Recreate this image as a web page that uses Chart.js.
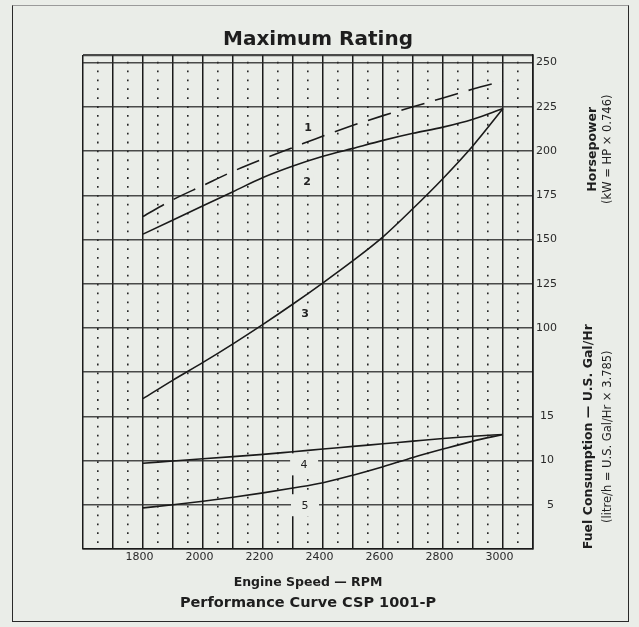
<!DOCTYPE html>
<html>
<head>
<meta charset="utf-8">
<script src="https://cdn.jsdelivr.net/npm/chart.js@4.4.1/dist/chart.umd.min.js"></script>
<style>
  html, body { margin:0; padding:0; width:639px; height:627px; overflow:hidden; background:#eaede8; }
  #frame { position:absolute; left:12px; top:5px; width:617px; height:617px; box-sizing:border-box;
           border:1.5px solid #2a2a2a; border-top-color:#9a9a9a; }
  #c { position:absolute; left:0; top:0; }
</style>
</head>
<body>
<div id="frame"></div>
<canvas id="c" width="639" height="627"></canvas>
<script>
// ---- data ----
const rpm        = [1800, 1900, 2000, 2100, 2200, 2300, 2400, 2500, 2600, 2700, 2800, 2900, 3000];
const hpCurve1   = [163, 172.5, 180.5, 188.5, 195.5, 202, 208.5, 214.5, 220, 225, 230, 235, 239.5]; // dashed
const hpCurve2   = [153, 161, 169, 177, 185, 191.5, 197, 201.5, 206, 210, 213.5, 218, 224];
const hpCurve3   = [60, 70.5, 80.5, 91, 102, 113.5, 125.5, 138, 151.5, 167.5, 184.5, 203, 224];
const fuelCurve4 = [9.7, 9.95, 10.2, 10.45, 10.7, 11.0, 11.3, 11.6, 11.9, 12.2, 12.5, 12.75, 12.95];
const fuelCurve5 = [4.65, 5.0, 5.4, 5.85, 6.35, 6.9, 7.5, 8.35, 9.3, 10.35, 11.3, 12.2, 12.95];

const rpmTickLabels  = [1800, 2000, 2200, 2400, 2600, 2800, 3000];
const hpTickLabels   = [100, 125, 150, 175, 200, 225, 250];
const fuelTickLabels = [5, 10, 15];
const curveNames     = ['1', '2', '3', '4', '5'];

// ---- styling ----
const INK = '#1a1a1a';
const BG = '#eaede8';
const FONT = "'DejaVu Sans', sans-serif";
const RPM_MIN = 1600, RPM_MAX = 3100;
const HP_MIN = -25, HP_MAX = 254.28;
const FUEL_MIN = 0, FUEL_MAX = 55.86;

const xy = (ys) => rpm.map((r, i) => ({ x: r, y: ys[i] }));

// label anchors in data units: [name index, rpm, value, axis, boxW, boxH, bold]
const labelAnchors = [
  [0, 2350, 213, 'yHp', 12, 16, true],
  [1, 2347, 182.5, 'yHp', 12, 16, true],
  [2, 2340, 108, 'yHp', 12, 16, true],
  [3, 2337, 9.57, 'yFuel', 28, 22, false],
  [4, 2340, 4.95, 'yFuel', 28, 22, false]
];

const curveLabels = {
  id: 'curveLabels',
  beforeDatasetsDraw(chart) {
    const ctx = chart.ctx;
    const xs = chart.scales.x;
    ctx.save();
    labelAnchors.forEach(([k, r, v, ax, w, h, bold]) => {
      const px = xs.getPixelForValue(r);
      const py = chart.scales[ax].getPixelForValue(v);
      ctx.fillStyle = BG;
      ctx.fillRect(px - w / 2, py - h / 2, w, h);
      ctx.fillStyle = '#222';
      ctx.font = (bold ? 'bold ' : '') + '11px ' + FONT;
      ctx.textAlign = 'center';
      ctx.textBaseline = 'middle';
      ctx.fillText(curveNames[k], px, py + 0.5);
    });
    ctx.restore();
  }
};

const sideTitles = {
  id: 'sideTitles',
  afterDraw(chart) {
    const ctx = chart.ctx;
    const put = (text, x, y, font) => {
      ctx.save();
      ctx.translate(x, y);
      ctx.rotate(-Math.PI / 2);
      ctx.font = font;
      ctx.fillStyle = '#1e1e1e';
      ctx.textAlign = 'center';
      ctx.textBaseline = 'middle';
      ctx.fillText(text, 0, 0);
      ctx.restore();
    };
    const hpMid = chart.scales.yHp.getPixelForValue(201);
    const fuelMid = chart.scales.yHp.getPixelForValue(38.5);
    put('Horsepower', 593, hpMid, 'bold 12.5px ' + FONT);
    put('(kW = HP × 0.746)', 608, hpMid, '11.5px ' + FONT);
    put('Fuel Consumption — U.S. Gal/Hr', 589, fuelMid, 'bold 12.5px ' + FONT);
    put('(litre/h = U.S. Gal/Hr × 3.785)', 608, fuelMid, '11.5px ' + FONT);
  }
};

const lineDs = (name, data, axis, dash) => ({
  label: name, data: xy(data), xAxisID: 'x', yAxisID: axis,
  borderColor: INK, borderWidth: 1.6, borderDash: dash || [],
  pointRadius: 0, fill: false, cubicInterpolationMode: 'monotone'
});

new Chart(document.getElementById('c'), {
  type: 'line',
  data: {
    datasets: [
      lineDs(curveNames[0], hpCurve1, 'yHp', [24, 11]),
      lineDs(curveNames[1], hpCurve2, 'yHp'),
      lineDs(curveNames[2], hpCurve3, 'yHp'),
      lineDs(curveNames[3], fuelCurve4, 'yFuel'),
      lineDs(curveNames[4], fuelCurve5, 'yFuel')
    ]
  },
  plugins: [curveLabels, sideTitles],
  options: {
    responsive: false,
    animation: false,
    devicePixelRatio: 1,
    events: [],
    layout: { padding: { left: 83, right: 86, top: 0, bottom: 15.3 } },
    plugins: {
      legend: { display: false },
      tooltip: { enabled: false },
      title: {
        display: true, text: 'Maximum Rating', color: '#1e1e1e', fullSize: true,
        font: { family: FONT, weight: 'bold', size: 20, lineHeight: 1.2 },
        padding: { top: 28, bottom: 3 }
      },
      subtitle: {
        display: true, position: 'bottom', text: 'Performance Curve CSP 1001-P', color: '#1e1e1e',
        fullSize: false,
        font: { family: FONT, weight: 'bold', size: 14.5, lineHeight: 1.2 },
        padding: { top: 1.8, bottom: 0 }
      }
    },
    scales: {
      x: {
        type: 'linear', position: 'bottom', min: RPM_MIN, max: RPM_MAX, weight: 0,
        afterBuildTicks: (s) => { const t = []; for (let v = RPM_MIN; v <= RPM_MAX; v += 100) t.push({ value: v }); s.ticks = t; },
        ticks: {
          autoSkip: false, maxRotation: 0, minRotation: 0, padding: 2, labelOffset: -3.5,
          color: '#2a2a2a', font: { family: FONT, size: 11, lineHeight: 1.2 },
          callback: (v) => rpmTickLabels.includes(v) ? String(v) : ''
        },
        grid: { color: INK, lineWidth: 1.5, drawTicks: false },
        border: { display: true, color: INK, width: 1.6 },
        title: {
          display: true, text: 'Engine Speed — RPM', color: '#1e1e1e',
          font: { family: FONT, weight: 'bold', size: 12.5, lineHeight: 1.2 },
          padding: { top: 9.3, bottom: 2 }
        }
      },
      xMinor: {
        type: 'linear', position: 'bottom', min: RPM_MIN, max: RPM_MAX, weight: 5,
        afterBuildTicks: (s) => { const t = []; for (let v = RPM_MIN + 50; v < RPM_MAX; v += 100) t.push({ value: v }); s.ticks = t; },
        afterFit: (s) => { s.height = 0; },
        ticks: { display: false },
        grid: { color: '#262626', lineWidth: 1.6, drawTicks: false },
        border: { display: false, dash: [1.8, 7.08], dashOffset: 2.2 }
      },
      yFuel: {
        type: 'linear', position: 'right', min: FUEL_MIN, max: FUEL_MAX, weight: 0,
        afterBuildTicks: (s) => { s.ticks = fuelTickLabels.map(v => ({ value: v })); },
        afterFit: (s) => { s.width = 0; },
        ticks: {
          mirror: true, padding: 21, crossAlign: 'near', color: '#2a2a2a',
          font: { family: FONT, size: 11 },
          callback: (v) => String(v)
        },
        grid: { display: false, drawTicks: false },
        border: { display: false }
      },
      yHp: {
        type: 'linear', position: 'right', min: HP_MIN, max: HP_MAX, weight: 1,
        afterBuildTicks: (s) => {
          const t = []; for (let v = -25; v <= 250; v += 25) t.push({ value: v });
          t.push({ value: HP_MAX }); s.ticks = t;
        },
        afterFit: (s) => { s.width = 20; },
        ticks: {
          mirror: true, padding: 24, crossAlign: 'near', color: '#2a2a2a',
          font: { family: FONT, size: 11 },
          callback: (v) => hpTickLabels.includes(v) ? String(v) : ''
        },
        grid: {
          color: 'rgba(45,45,45,0.85)', drawTicks: false,
          lineWidth: (c) => (c.tick && c.tick.value === HP_MAX) ? 2.2 : 1.4
        },
        border: { display: true, color: INK, width: 1.6 }
      }
    }
  }
});
</script>
</body>
</html>
